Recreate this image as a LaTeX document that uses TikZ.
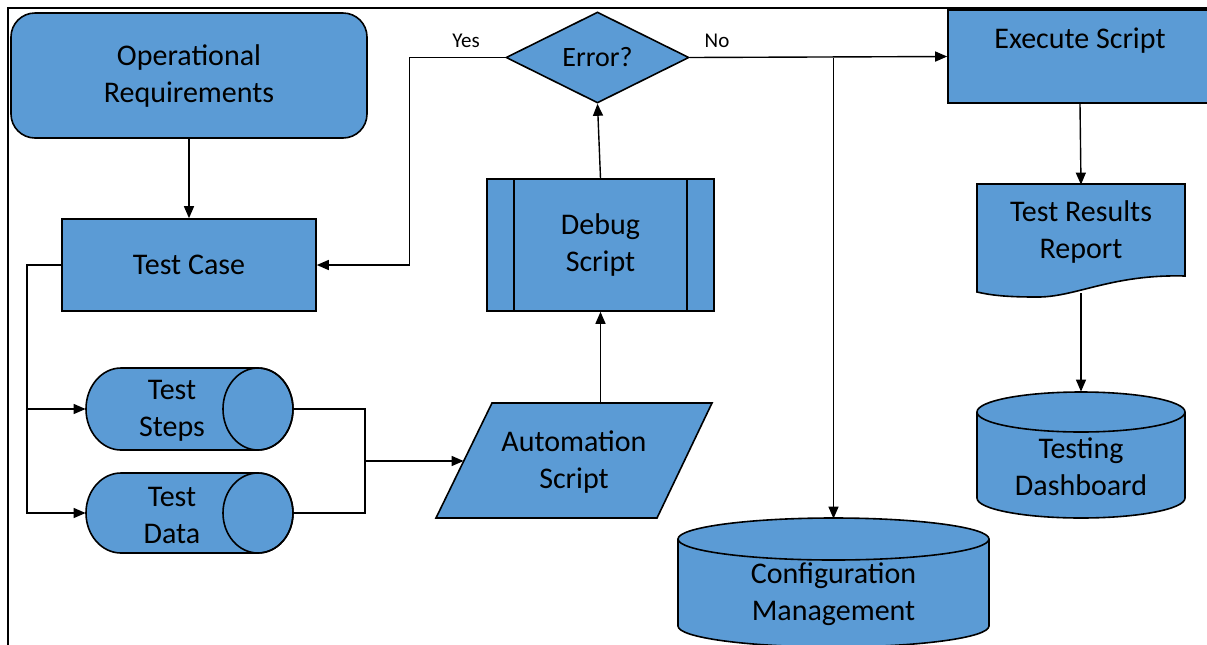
\documentclass[tikz,border=0pt]{standalone}
\usepackage{fontspec}
\setmainfont{Carlito}
\usetikzlibrary{shapes.geometric,arrows.meta,calc}

\definecolor{boxblue}{RGB}{91,155,213}

\tikzset{
  box/.style = {draw, fill=boxblue, line width=0.8pt, align=center, inner sep=0pt},
  shell/.style = {fill=boxblue, draw, line width=0.8pt},
  holder/.style = {inner sep=0pt, align=center},
  tag/.style = {font=\fontsize{10.5}{12}\selectfont},
  line/.style = {line width=0.7pt},
  flow/.style = {line, -{Triangle[length=6pt,width=5pt]}},
}

\begin{document}
\begin{tikzpicture}[x=0.5pt, y=-0.5pt, font=\fontsize{15}{18.5}\selectfont]
  \clip (0,0) rectangle (1207,644);
  % outer frame
  \draw[line width=1.4pt] (8,700) -- (8,8) -- (1300,8);

  % left column
  \node[box, rounded corners=12pt, minimum width=178pt, minimum height=62.5pt] (opreq) at (189,75.5) {Operational\\Requirements};
  \node[box, minimum width=127pt, minimum height=46pt] (tcase) at (189,265) {Test Case};

  % data stores lying on their side
  \path[shell] (121,368) -- (258,368) arc[start angle=90, end angle=-90, x radius=17.5pt, y radius=20.5pt]
    -- (121,450) arc[start angle=270, end angle=90, x radius=17.5pt, y radius=20.5pt] -- cycle;
  \draw[line width=0.8pt] (258,409) ellipse[x radius=17.5pt, y radius=20.5pt];
  \node[holder, minimum width=103.5pt, minimum height=41pt,
        label={[holder, xshift=-8.75pt, yshift=-1pt]center:Test\\Steps}] (tsteps) at (189.5,409) {};
  \path[shell] (121,473) -- (258,473) arc[start angle=90, end angle=-90, x radius=17.5pt, y radius=20pt]
    -- (121,553) arc[start angle=270, end angle=90, x radius=17.5pt, y radius=20pt] -- cycle;
  \draw[line width=0.8pt] (258,513) ellipse[x radius=17.5pt, y radius=20pt];
  \node[holder, minimum width=103.5pt, minimum height=40pt,
        label={[holder, xshift=-8.75pt, yshift=-1pt]center:Test\\Data}] (tdata) at (189.5,513) {};

  % middle column
  \node[box, diamond, aspect=2, minimum width=91.5pt, minimum height=45.5pt,
        font=\fontsize{14}{17}\selectfont] (err) at (597.5,57.5) {Error?};
  \node[box, minimum width=113.5pt, minimum height=66pt] (debug) at (600.5,245) {Debug\\Script};
  \draw[line width=0.8pt] ($(debug.north west)+(28,0)$) -- ($(debug.south west)+(28,0)$);
  \draw[line width=0.8pt] ($(debug.north east)+(-28,0)$) -- ($(debug.south east)+(-28,0)$);
  \path[shell] (492,403) -- (712,403) -- (657,518) -- (436,518) -- cycle;
  \node[holder, minimum width=110pt, minimum height=57.5pt] (auto) at (574,462) {Automation\\Script};

  \path[shell] (678,539) -- (678,626) arc[start angle=180, end angle=360, x radius=77.75pt, y radius=10.5pt]
    -- (989,539) arc[start angle=0, end angle=180, x radius=77.75pt, y radius=10.5pt] -- cycle;
  \draw[line width=0.8pt] (678,539) arc[start angle=180, end angle=360, x radius=77.75pt, y radius=10.5pt];
  \node[holder, minimum width=155.5pt, minimum height=63pt,
        label={[holder, yshift=-6pt]center:Configuration\\Management}] (config) at (833.5,582) {};

  % right column
  \node[box, minimum width=132pt, minimum height=46.5pt] (exec) at (1080,56.5) {Execute Script\\\mbox{}};
  \path[shell] (977,184) -- (1185,184) -- (1185,276)
    .. controls (1110,274) and (1075,298) .. (1035,297)
    .. controls (1005,297) and (990,295) .. (977,292) -- cycle;
  \node[holder, minimum width=104pt, minimum height=47pt] (report) at (1081,232) {Test Results\\Report};
  \coordinate (reptail) at (1081,293);

  \path[shell] (977,412) -- (977,498) arc[start angle=180, end angle=360, x radius=52pt, y radius=10pt]
    -- (1185,412) arc[start angle=0, end angle=180, x radius=52pt, y radius=10pt] -- cycle;
  \draw[line width=0.8pt] (977,412) arc[start angle=180, end angle=360, x radius=52pt, y radius=10pt];
  \node[holder, minimum width=104pt, minimum height=63pt,
        label={[holder, yshift=-6pt]center:Testing\\Dashboard}] (dash) at (1081,455) {};

  % connectors
  \draw[flow] (opreq.south) -- (tcase.north);
  \coordinate (bus) at (27,265);
  \draw[flow] (tcase.west) -- (bus) |- (tsteps.west);
  \draw[flow] (bus) |- (tdata.west);
  \coordinate (join) at (365,461);
  \draw[line] (tsteps.east) -| (join);
  \draw[line] (tdata.east) -| (join);
  \draw[flow] (join) -- (join -| auto.west);
  \draw[flow] (auto.north -| debug.south) -- (debug.south);
  \draw[flow] (debug.north) -- (err.south);
  \draw[flow] (err.west) -- ++(-96,0) |- (tcase.east);
  \draw[flow] (err.east) -- (exec.west);
  \draw[flow] (config.north |- err.east) -- (config.north);
  \draw[flow] (exec.south) -- (report.north);
  \draw[flow] (reptail) -- (dash.north);

  \node[tag] (yes) at (466,41) {Yes};
  \node[tag] (no) at (717,41) {No};
\end{tikzpicture}
\end{document}
